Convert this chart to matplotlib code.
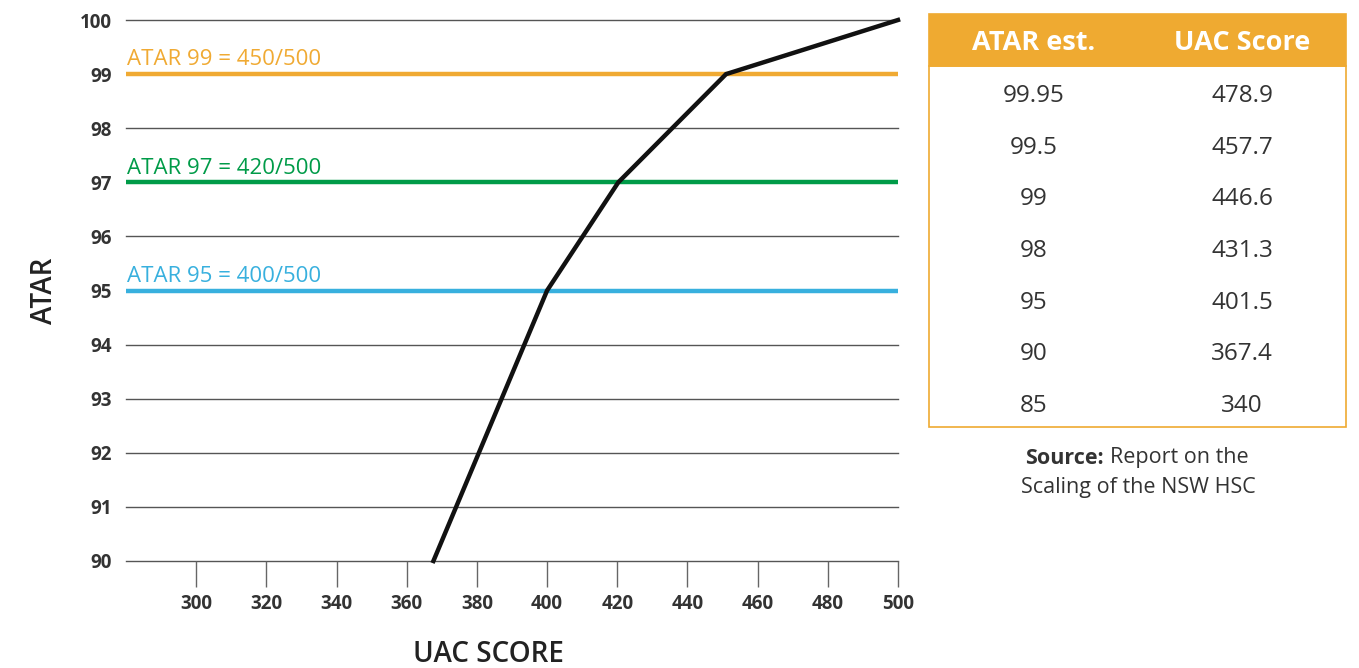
import matplotlib
matplotlib.use('Agg')
import matplotlib.pyplot as plt
from matplotlib.patches import Rectangle

plt.rcParams['font.family'] = ['Open Sans', 'DejaVu Sans']

# curve
uac_curve = [367.6, 400, 420.3, 451, 500]
atar_curve = [90, 95, 97, 99, 100]

# reference lines
ref_atar = [99, 97, 95]
ref_labels = ['ATAR 99 = 450/500', 'ATAR 97 = 420/500', 'ATAR 95 = 400/500']
ref_colors = ['#F0AA33', '#009B48', '#38B0DE']

x_ticks = [300, 320, 340, 360, 380, 400, 420, 440, 460, 480, 500]
y_ticks = [90, 91, 92, 93, 94, 95, 96, 97, 98, 99, 100]

# table
table_header = ['ATAR est.', 'UAC Score']
table_atar = ['99.95', '99.5', '99', '98', '95', '90', '85']
table_uac = ['478.9', '457.7', '446.6', '431.3', '401.5', '367.4', '340']

W, H = 1359, 668
fig = plt.figure(figsize=(W / 100, H / 100), dpi=100)

def fx(x):
    return x / W

def fy(y):
    return 1 - y / H

ax = fig.add_axes([fx(126), fy(561), fx(898) - fx(126), fy(20) - fy(561)])
ax.set_xlim(280, 500)
ax.set_ylim(90, 100)

for y in y_ticks:
    if y not in ref_atar:
        ax.axhline(y, color='#555555', lw=1.0, zorder=1, clip_on=False)

for y, lab, c in zip(ref_atar, ref_labels, ref_colors):
    ax.axhline(y, color=c, lw=3.2, zorder=2)
    ax.text(280.3, y + 0.16, lab, color=c, fontsize=16, ha='left', va='baseline')

ax.plot(uac_curve, atar_curve, color='#111111', lw=3.2, zorder=3,
        clip_on=False, solid_joinstyle='miter')

for s in ax.spines.values():
    s.set_visible(False)

ax.set_xticks(x_ticks)
ax.set_xticklabels([str(v) for v in x_ticks], fontsize=13.5, fontweight='bold', color='#333333')
ax.set_yticks(y_ticks)
ax.set_yticklabels([str(v) for v in y_ticks], fontsize=13.5, fontweight='bold', color='#333333')
ax.tick_params(axis='x', length=18.5, width=1, color='#666666', pad=5)
ax.tick_params(axis='y', length=0, pad=10)

fig.text(fx(488), fy(654), 'UAC SCORE', fontsize=20, fontweight='semibold',
         color='#222222', ha='center', va='center')
fig.text(fx(45), fy(291), 'ATAR', fontsize=20, fontweight='semibold',
         color='#222222', ha='center', va='center', rotation=90)

# table drawn in figure pixels
orange = '#EFAA31'
fig.patches.append(Rectangle((fx(929), fy(427)), fx(1346) - fx(929), fy(66) - fy(427),
                             transform=fig.transFigure, facecolor='white',
                             edgecolor=orange, lw=1.2))
fig.patches.append(Rectangle((fx(929), fy(66)), fx(1346) - fx(929), fy(14) - fy(66),
                             transform=fig.transFigure, facecolor=orange,
                             edgecolor=orange, lw=1.2))
col_x = [1034, 1242]
for cx, h in zip(col_x, table_header):
    fig.text(fx(cx), fy(43), h, color='white', fontsize=19.5, fontweight='bold',
             ha='center', va='center')
for i, (a, u) in enumerate(zip(table_atar, table_uac)):
    yy = 96.5 + i * 51.5
    fig.text(fx(col_x[0]), fy(yy), a, color='#333333', fontsize=17.5, ha='center', va='center')
    fig.text(fx(col_x[1]), fy(yy), u, color='#333333', fontsize=17.5, ha='center', va='center')

fig.text(fx(1104), fy(458), 'Source:', color='#333333', fontsize=15.5, fontweight='bold',
         ha='right', va='center')
fig.text(fx(1110), fy(458), 'Report on the', color='#333333', fontsize=15.5,
         ha='left', va='center')
fig.text(fx(1138), fy(488), 'Scaling of the NSW HSC', color='#333333', fontsize=15.5,
         ha='center', va='center')

fig.savefig('out.png', dpi=100)
